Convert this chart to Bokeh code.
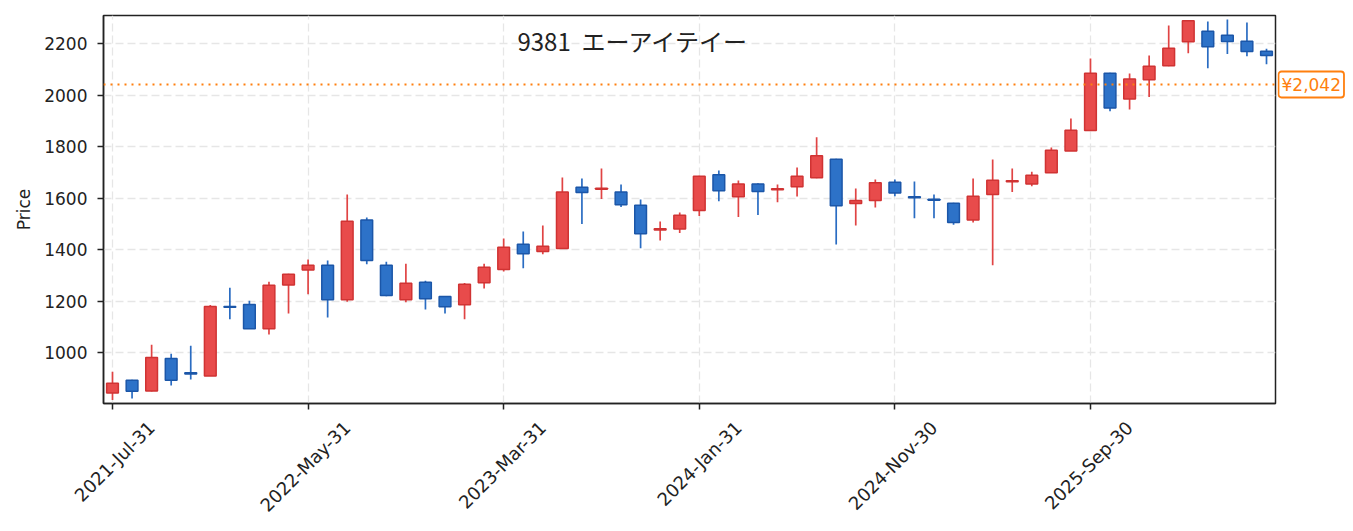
import pandas as pd
import math
from bokeh.plotting import figure
from bokeh.layouts import row
from bokeh.models import Range1d, FixedTicker, Span, Label, ColumnDataSource
from bokeh.embed import file_html
from bokeh.resources import INLINE

TITLE = "9381\u00a0\u00a0エーアイテイー"
CURRENT_PRICE = 2042

dates = pd.date_range("2021-07-31", periods=60, freq="ME")

opens = [844, 893, 852, 978, 922, 910, 1180, 1188, 1093, 1263,
         1322, 1340, 1206, 1516, 1340, 1206, 1274, 1219, 1187, 1272,
         1323, 1422, 1393, 1405, 1643, 1635, 1624, 1573, 1477, 1481,
         1553, 1691, 1606, 1656, 1633, 1645, 1680, 1752, 1580, 1591,
         1662, 1606, 1596, 1581, 1516, 1615, 1664, 1656, 1699, 1784,
         1863, 2086, 1986, 2060, 2115, 2208, 2249, 2233, 2210, 2171]
highs = [926, 895, 1031, 996, 1027, 1186, 1253, 1202, 1276, 1307,
         1362, 1358, 1615, 1525, 1354, 1346, 1280, 1221, 1271, 1346,
         1444, 1471, 1494, 1681, 1677, 1716, 1654, 1595, 1510, 1545,
         1688, 1708, 1669, 1658, 1654, 1720, 1837, 1754, 1638, 1673,
         1673, 1665, 1615, 1583, 1677, 1751, 1716, 1703, 1797, 1910,
         2143, 2088, 2085, 2155, 2271, 2292, 2287, 2294, 2283, 2181]
lows = [817, 822, 850, 873, 896, 910, 1130, 1093, 1071, 1153,
        1227, 1137, 1198, 1344, 1220, 1196, 1168, 1153, 1130, 1250,
        1316, 1328, 1383, 1403, 1500, 1597, 1566, 1406, 1436, 1465,
        1531, 1589, 1527, 1535, 1585, 1607, 1678, 1421, 1494, 1564,
        1608, 1523, 1523, 1497, 1506, 1340, 1624, 1647, 1699, 1784,
        1862, 1938, 1945, 1993, 2113, 2163, 2105, 2160, 2152, 2121]
closes = [882, 851, 982, 893, 918, 1180, 1177, 1093, 1262, 1305,
          1340, 1206, 1511, 1358, 1222, 1270, 1210, 1179, 1266, 1332,
          1410, 1385, 1414, 1624, 1623, 1639, 1575, 1462, 1482, 1534,
          1686, 1629, 1656, 1626, 1637, 1686, 1765, 1571, 1591, 1660,
          1621, 1602, 1592, 1506, 1608, 1670, 1668, 1690, 1787, 1864,
          2086, 1951, 2063, 2113, 2183, 2290, 2189, 2209, 2170, 2155]

y_ticks = [1000, 1200, 1400, 1600, 1800, 2000, 2200]
x_tick_idx = [0, 10, 20, 30, 40, 50]
x_tick_labels = [dates[i].strftime("%Y-%b-%d") for i in x_tick_idx]

FONT = "DejaVu Sans"
CJK_FONT = "Noto Sans CJK JP"
INK = "#222222"
ORANGE = "#ff7f0e"
UP_FILL, UP_LINE, UP_WICK = "#e84b4b", "#d03333", "#e04444"
DN_FILL, DN_LINE, DN_WICK = "#2d72c8", "#1b56a8", "#2a6cc2"

# layout (pixels)
LEFT, TOP, BOTTOM = 103, 15, 126
FRAME_W = 1172
H = 529
LABEL_SHIFT = 2  # rotated tick labels are centred on their tick

idx = list(range(len(dates)))
up = [c >= o for o, c in zip(opens, closes)]
src = ColumnDataSource(dict(
    x=idx,
    top=[max(o, c) for o, c in zip(opens, closes)],
    bottom=[min(o, c) for o, c in zip(opens, closes)],
    high=highs, low=lows,
    fill=[UP_FILL if u else DN_FILL for u in up],
    line=[UP_LINE if u else DN_LINE for u in up],
    wick=[UP_WICK if u else DN_WICK for u in up],
))

yr = Range1d(803, 2310)
p = figure(width=LEFT + FRAME_W + 2, height=H, output_backend="svg", toolbar_location=None,
           x_range=Range1d(-0.46, 59.46), y_range=yr,
           min_border_left=LEFT, min_border_right=2, min_border_top=TOP,
           min_border_bottom=BOTTOM)

p.segment(x0="x", y0="low", x1="x", y1="high", source=src, line_color="wick", line_width=1.7)
p.vbar(x="x", width=0.6, top="top", bottom="bottom", source=src,
       fill_color="fill", line_color="line", line_width=1.5)

p.add_layout(Span(location=CURRENT_PRICE, dimension="width", line_color=ORANGE,
                  line_width=2, line_dash="2 5"))
p.add_layout(Label(x=530, y=363, x_units="screen", y_units="screen", text=TITLE,
                   text_align="center", text_baseline="middle", text_color=INK,
                   text_font=CJK_FONT, text_font_size="24px"))

p.outline_line_color = INK
p.outline_line_width = 1.5
p.outline_line_alpha = 1

for ax in (p.xaxis, p.yaxis):
    ax.axis_line_color = INK
    ax.axis_line_width = 1.5
    ax.major_label_text_font = FONT
    ax.major_label_text_font_size = "17px"
    ax.major_label_text_color = INK

p.yaxis.ticker = FixedTicker(ticks=y_ticks)
p.yaxis.major_tick_line_color = INK
p.yaxis.major_tick_line_width = 1.5
p.yaxis.major_tick_out = 6
p.yaxis.major_tick_in = 0
p.yaxis.minor_tick_line_color = None
p.yaxis.major_label_standoff = 10
p.yaxis.axis_label = "Price"
p.yaxis.axis_label_text_font = FONT
p.yaxis.axis_label_text_font_size = "17px"
p.yaxis.axis_label_text_font_style = "normal"
p.yaxis.axis_label_text_color = INK
p.yaxis.axis_label_standoff = 7

# x axis: tick marks as minor ticks at the real positions, labels offset so
# that the rotated text is centred on its tick
p.xaxis.ticker = FixedTicker(ticks=[i + LABEL_SHIFT for i in x_tick_idx],
                             minor_ticks=x_tick_idx)
p.xaxis.major_label_overrides = {i + LABEL_SHIFT: lab for i, lab in zip(x_tick_idx, x_tick_labels)}
p.xaxis.major_label_text_font_size = "18px"
p.xaxis.major_tick_line_color = None
p.xaxis.major_tick_out = 0
p.xaxis.major_tick_in = 0
p.xaxis.minor_tick_line_color = INK
p.xaxis.minor_tick_line_width = 1.5
p.xaxis.minor_tick_out = 6
p.xaxis.minor_tick_in = 0
p.xaxis.major_label_standoff = 15
p.xaxis.major_label_orientation = math.pi / 4

for g in (p.xgrid, p.ygrid):
    g.grid_line_color = "#e6e6e6"
    g.grid_line_width = 1.3
    g.grid_line_dash = "8 4"
p.xgrid.ticker = FixedTicker(ticks=x_tick_idx)
p.ygrid.ticker = FixedTicker(ticks=y_ticks)

# side panel holding the current-price tag
side = figure(width=72, height=H, output_backend="svg", toolbar_location=None,
              x_range=Range1d(0, 72), y_range=yr,
              min_border_left=0, min_border_right=0, min_border_top=TOP,
              min_border_bottom=BOTTOM)
side.axis.visible = False
side.grid.visible = False
side.outline_line_color = None
side.add_layout(Label(x=1, y=CURRENT_PRICE, text=f"¥{CURRENT_PRICE:,}",
                      text_align="left", text_baseline="middle", text_color=ORANGE,
                      text_font=FONT, text_font_size="17px",
                      border_line_color=ORANGE, border_line_width=1.8,
                      background_fill_color="white", padding=3, border_radius=3))

layout = row(p, side)
open("out.html", "w").write(file_html(layout, INLINE))
